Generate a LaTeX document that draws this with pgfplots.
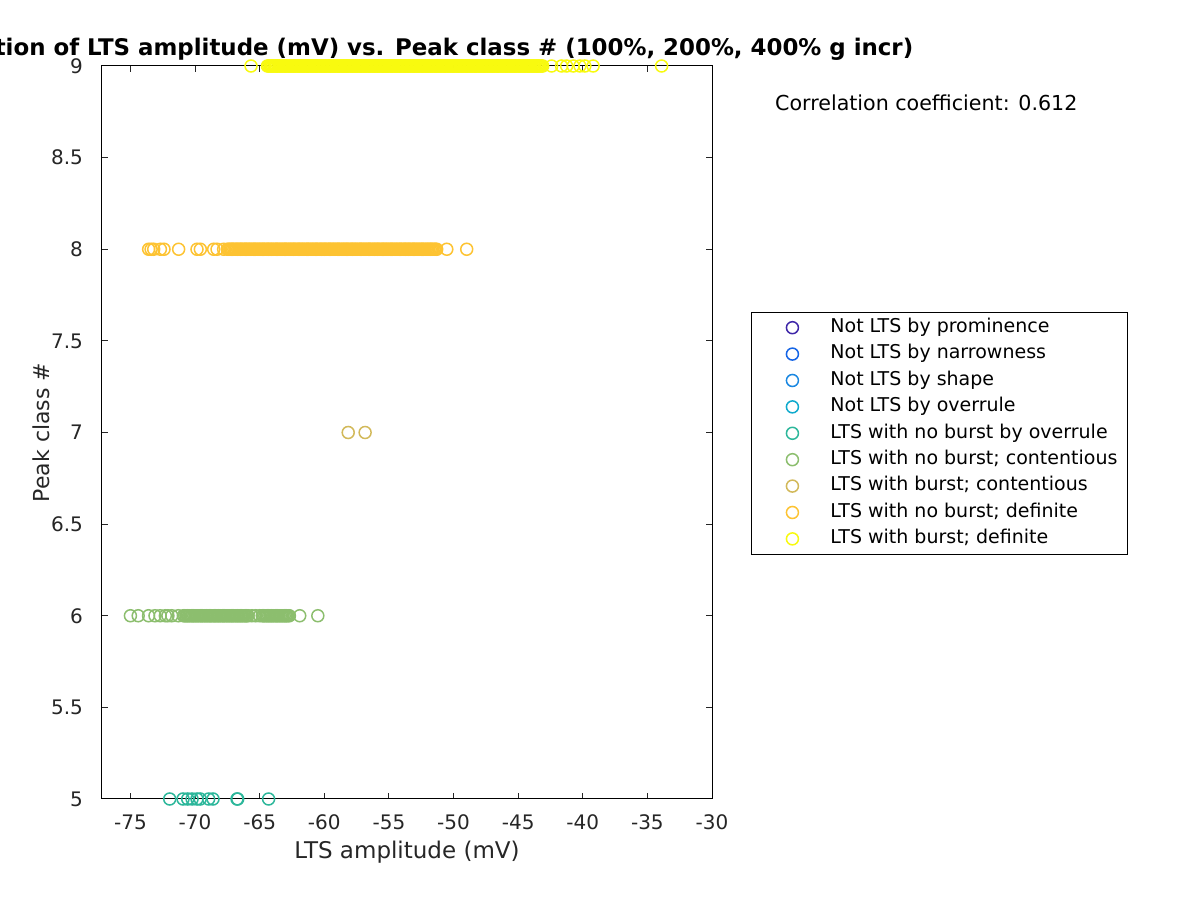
\documentclass[border=0pt]{standalone}
\usepackage{pgfplots}
\pgfplotsset{compat=1.18}
\usepackage{fontspec}
\setmainfont{DejaVu Sans}
\definecolor{c1}{RGB}{62,38,168}
\definecolor{c2}{RGB}{20,100,230}
\definecolor{c3}{RGB}{25,135,225}
\definecolor{c4}{RGB}{15,170,205}
\definecolor{c5}{RGB}{45,183,155}
\definecolor{c6}{RGB}{140,190,110}
\definecolor{c7}{RGB}{210,185,90}
\definecolor{c8}{RGB}{253,195,50}
\definecolor{c9}{RGB}{248,250,15}
\definecolor{axgray}{RGB}{38,38,38}
\begin{document}
\begin{tikzpicture}
\begin{axis}[
  at={(51pt,50.5pt)}, anchor=south west,
  scale only axis, width=305pt, height=366.5pt,
  xmin=-77.2, xmax=-30, ymin=5, ymax=9,
  xtick={-75,-70,-65,-60,-55,-50,-45,-40,-35,-30},
  ytick={5,5.5,6,6.5,7,7.5,8,8.5,9},
  clip=false,
  axis line style={draw=black, line width=0.5pt},
  tick style={color=axgray, line width=0.5pt},
  major tick length=3pt,
  tick label style={font=\fontsize{10}{12}\selectfont, color=axgray},
  /pgf/number format/assume math mode=true,
  xticklabel style={yshift=-4.5pt},
  yticklabel style={xshift=-6pt},
  xlabel={LTS amplitude (mV)},
  ylabel={Peak class \#},
  ylabel style={font=\fontsize{11}{13}\selectfont, color=axgray, at={(axis description cs:-0.0998,0.5)}, anchor=center},
  xlabel style={font=\fontsize{11.5}{13}\selectfont, color=axgray, at={(axis description cs:0.5,-0.0723)}, anchor=center},
  title={Correlation of LTS amplitude (mV) vs. Peak class \# (100\%, 200\%, 400\% g incr)},
  title style={font=\bfseries\fontsize{11.45}{13}\selectfont, at={(axis description cs:0.5,1.026)}, anchor=center, yshift=-7pt},
  legend style={at={(axis description cs:1.0638,0.6644)}, anchor=north west,
    draw=black, line width=0.5pt, inner xsep=2.5pt, inner ysep=1pt,
    font=\fontsize{9.5}{11}\selectfont, text=black,
    nodes={inner xsep=2.5pt, inner ysep=2.2pt, text height=6.8pt, text depth=2pt},
    column sep=0pt},
  legend cell align=left,
  legend image code/.code={\path[draw=none, fill=none] (0pt,0pt) -- (34.5pt,0pt); \draw[#1] plot[only marks] coordinates {(18pt,0pt)};},
  every axis plot/.append style={only marks, mark=o, mark size=3pt, line width=0.75pt},
]
\addlegendimage{only marks, mark=o, mark size=3pt, line width=0.75pt, color=c1}
\addlegendentry{Not LTS by prominence}
\addlegendimage{only marks, mark=o, mark size=3pt, line width=0.75pt, color=c2}
\addlegendentry{Not LTS by narrowness}
\addlegendimage{only marks, mark=o, mark size=3pt, line width=0.75pt, color=c3}
\addlegendentry{Not LTS by shape}
\addlegendimage{only marks, mark=o, mark size=3pt, line width=0.75pt, color=c4}
\addlegendentry{Not LTS by overrule}
% class 5
\addplot[color=c5] coordinates {(-71.96,5)(-70.93,5)(-70.57,5)(-70.23,5)(-69.85,5)(-69.6,5)(-68.95,5)(-68.61,5)(-66.75,5)(-66.7,5)(-64.31,5)};
\addlegendentry{LTS with no burst by overrule}
% class 6
\addplot[color=c6] coordinates {(-75.0,6)(-74.4,6)(-73.6,6)(-73.1,6)(-72.7,6)(-72.3,6)(-72.1,6)(-71.8,6)(-71.3,6)
(-70.9,6)(-70.8,6)(-70.7,6)(-70.6,6)(-70.5,6)(-70.4,6)(-70.3,6)(-70.2,6)(-70.1,6)(-70.0,6)
(-69.9,6)(-69.8,6)(-69.7,6)(-69.6,6)(-69.5,6)(-69.4,6)(-69.3,6)(-69.2,6)(-69.1,6)(-69.0,6)
(-68.9,6)(-68.8,6)(-68.7,6)(-68.6,6)(-68.5,6)(-68.4,6)(-68.3,6)(-68.2,6)(-68.1,6)(-68.0,6)
(-67.9,6)(-67.8,6)(-67.7,6)(-67.6,6)(-67.5,6)(-67.4,6)(-67.3,6)(-67.2,6)(-67.1,6)(-67.0,6)
(-66.9,6)(-66.8,6)(-66.7,6)(-66.6,6)(-66.5,6)(-66.4,6)(-66.3,6)(-66.2,6)(-66.1,6)(-66.0,6)
(-65.9,6)(-65.6,6)(-65.3,6)(-65.0,6)
(-64.8,6)(-64.7,6)(-64.6,6)(-64.5,6)(-64.4,6)(-64.3,6)(-64.2,6)(-64.1,6)(-64.0,6)
(-63.9,6)(-63.8,6)(-63.7,6)(-63.6,6)(-63.5,6)(-63.4,6)(-63.3,6)(-63.2,6)(-63.1,6)(-63.0,6)
(-62.9,6)(-62.8,6)(-62.7,6)(-61.9,6)(-60.5,6)};
\addlegendentry{LTS with no burst; contentious}
% class 7
\addplot[color=c7] coordinates {(-58.15,7)(-56.84,7)};
\addlegendentry{LTS with burst; contentious}
% class 8
\addplot[color=c8] coordinates {(-73.59,8)(-73.4,8)(-73.2,8)(-72.68,8)(-72.4,8)(-71.27,8)(-69.85,8)(-69.59,8)(-68.56,8)(-68.3,8)(-67.79,8)
(-67.5,8)(-67.4,8)(-67.3,8)(-67.2,8)(-67.1,8)(-67.0,8)
(-66.9,8)(-66.8,8)(-66.7,8)(-66.6,8)(-66.5,8)(-66.4,8)(-66.3,8)(-66.2,8)(-66.1,8)(-66.0,8)
(-65.9,8)(-65.8,8)(-65.7,8)(-65.6,8)(-65.5,8)(-65.4,8)(-65.3,8)(-65.2,8)(-65.1,8)(-65.0,8)
(-64.9,8)(-64.8,8)(-64.7,8)(-64.6,8)(-64.5,8)(-64.4,8)(-64.3,8)(-64.2,8)(-64.1,8)(-64.0,8)
(-63.9,8)(-63.8,8)(-63.7,8)(-63.6,8)(-63.5,8)(-63.4,8)(-63.3,8)(-63.2,8)(-63.1,8)(-63.0,8)
(-62.9,8)(-62.8,8)(-62.7,8)(-62.6,8)(-62.5,8)(-62.4,8)(-62.3,8)(-62.2,8)(-62.1,8)(-62.0,8)
(-61.9,8)(-61.8,8)(-61.7,8)(-61.6,8)(-61.5,8)(-61.4,8)(-61.3,8)(-61.2,8)(-61.1,8)(-61.0,8)
(-60.9,8)(-60.8,8)(-60.7,8)(-60.6,8)(-60.5,8)(-60.4,8)(-60.3,8)(-60.2,8)(-60.1,8)(-60.0,8)
(-59.9,8)(-59.8,8)(-59.7,8)(-59.6,8)(-59.5,8)(-59.4,8)(-59.3,8)(-59.2,8)(-59.1,8)(-59.0,8)
(-58.9,8)(-58.8,8)(-58.7,8)(-58.6,8)(-58.5,8)(-58.4,8)(-58.3,8)(-58.2,8)(-58.1,8)(-58.0,8)
(-57.9,8)(-57.8,8)(-57.7,8)(-57.6,8)(-57.5,8)(-57.4,8)(-57.3,8)(-57.2,8)(-57.1,8)(-57.0,8)
(-56.9,8)(-56.8,8)(-56.7,8)(-56.6,8)(-56.5,8)(-56.4,8)(-56.3,8)(-56.2,8)(-56.1,8)(-56.0,8)
(-55.9,8)(-55.8,8)(-55.7,8)(-55.6,8)(-55.5,8)(-55.4,8)(-55.3,8)(-55.2,8)(-55.1,8)(-55.0,8)
(-54.9,8)(-54.8,8)(-54.7,8)(-54.6,8)(-54.5,8)(-54.4,8)(-54.3,8)(-54.2,8)(-54.1,8)(-54.0,8)
(-53.9,8)(-53.8,8)(-53.7,8)(-53.6,8)(-53.5,8)(-53.4,8)(-53.3,8)(-53.2,8)(-53.1,8)(-53.0,8)
(-52.9,8)(-52.8,8)(-52.7,8)(-52.6,8)(-52.5,8)(-52.4,8)(-52.3,8)(-52.2,8)(-52.1,8)(-52.0,8)
(-51.9,8)(-51.8,8)(-51.7,8)(-51.6,8)(-51.5,8)(-51.4,8)(-51.3,8)(-50.52,8)(-48.98,8)};
\addlegendentry{LTS with no burst; definite}
% class 9
\addplot[color=c9] coordinates {(-65.67,9)
(-64.4,9)(-64.3,9)(-64.2,9)(-64.1,9)(-64.0,9)
(-63.9,9)(-63.8,9)(-63.7,9)(-63.6,9)(-63.5,9)(-63.4,9)(-63.3,9)(-63.2,9)(-63.1,9)(-63.0,9)
(-62.9,9)(-62.8,9)(-62.7,9)(-62.6,9)(-62.5,9)(-62.4,9)(-62.3,9)(-62.2,9)(-62.1,9)(-62.0,9)
(-61.9,9)(-61.8,9)(-61.7,9)(-61.6,9)(-61.5,9)(-61.4,9)(-61.3,9)(-61.2,9)(-61.1,9)(-61.0,9)
(-60.9,9)(-60.8,9)(-60.7,9)(-60.6,9)(-60.5,9)(-60.4,9)(-60.3,9)(-60.2,9)(-60.1,9)(-60.0,9)
(-59.9,9)(-59.8,9)(-59.7,9)(-59.6,9)(-59.5,9)(-59.4,9)(-59.3,9)(-59.2,9)(-59.1,9)(-59.0,9)
(-58.9,9)(-58.8,9)(-58.7,9)(-58.6,9)(-58.5,9)(-58.4,9)(-58.3,9)(-58.2,9)(-58.1,9)(-58.0,9)
(-57.9,9)(-57.8,9)(-57.7,9)(-57.6,9)(-57.5,9)(-57.4,9)(-57.3,9)(-57.2,9)(-57.1,9)(-57.0,9)
(-56.9,9)(-56.8,9)(-56.7,9)(-56.6,9)(-56.5,9)(-56.4,9)(-56.3,9)(-56.2,9)(-56.1,9)(-56.0,9)
(-55.9,9)(-55.8,9)(-55.7,9)(-55.6,9)(-55.5,9)(-55.4,9)(-55.3,9)(-55.2,9)(-55.1,9)(-55.0,9)
(-54.9,9)(-54.8,9)(-54.7,9)(-54.6,9)(-54.5,9)(-54.4,9)(-54.3,9)(-54.2,9)(-54.1,9)(-54.0,9)
(-53.9,9)(-53.8,9)(-53.7,9)(-53.6,9)(-53.5,9)(-53.4,9)(-53.3,9)(-53.2,9)(-53.1,9)(-53.0,9)
(-52.9,9)(-52.8,9)(-52.7,9)(-52.6,9)(-52.5,9)(-52.4,9)(-52.3,9)(-52.2,9)(-52.1,9)(-52.0,9)
(-51.9,9)(-51.8,9)(-51.7,9)(-51.6,9)(-51.5,9)(-51.4,9)(-51.3,9)(-51.2,9)(-51.1,9)(-51.0,9)
(-50.9,9)(-50.8,9)(-50.7,9)(-50.6,9)(-50.5,9)(-50.4,9)(-50.3,9)(-50.2,9)(-50.1,9)(-50.0,9)
(-49.9,9)(-49.8,9)(-49.7,9)(-49.6,9)(-49.5,9)(-49.4,9)(-49.3,9)(-49.2,9)(-49.1,9)(-49.0,9)
(-48.9,9)(-48.8,9)(-48.7,9)(-48.6,9)(-48.5,9)(-48.4,9)(-48.3,9)(-48.2,9)(-48.1,9)(-48.0,9)
(-47.9,9)(-47.8,9)(-47.7,9)(-47.6,9)(-47.5,9)(-47.4,9)(-47.3,9)(-47.2,9)(-47.1,9)(-47.0,9)
(-46.9,9)(-46.8,9)(-46.7,9)(-46.6,9)(-46.5,9)(-46.4,9)(-46.3,9)(-46.2,9)(-46.1,9)(-46.0,9)
(-45.9,9)(-45.8,9)(-45.7,9)(-45.6,9)(-45.5,9)(-45.4,9)(-45.3,9)(-45.2,9)(-45.1,9)(-45.0,9)
(-44.9,9)(-44.8,9)(-44.7,9)(-44.6,9)(-44.5,9)(-44.4,9)(-44.3,9)(-44.2,9)(-44.1,9)(-44.0,9)
(-43.9,9)(-43.8,9)(-43.7,9)(-43.6,9)(-43.5,9)(-43.4,9)(-43.3,9)(-43.2,9)(-43.1,9)
(-42.41,9)(-41.64,9)(-41.25,9)(-40.74,9)(-40.22,9)(-39.84,9)(-39.2,9)(-33.9,9)};
\addlegendentry{LTS with burst; definite}
\node[anchor=west, font=\fontsize{10.3}{12}\selectfont, text=black, inner sep=0pt] at (axis description cs:1.103,0.9495) {Correlation coefficient: 0.612};
\end{axis}
\pgfresetboundingbox
\useasboundingbox (0,0) rectangle (600pt,450pt);
\end{tikzpicture}
\end{document}
